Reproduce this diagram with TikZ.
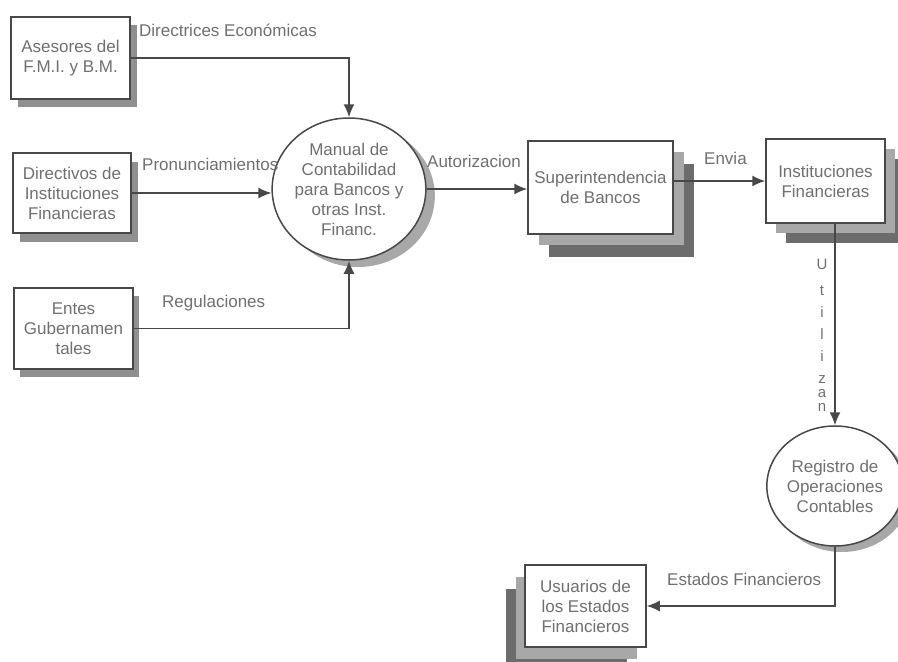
\documentclass[tikz,border=0pt]{standalone}
\usepackage{fontspec}
\setmainfont{Liberation Sans}
\usetikzlibrary{arrows.meta,shapes.geometric,shadows}
\definecolor{txt}{HTML}{707070}
\definecolor{ln}{HTML}{484848}
\definecolor{shs}{HTML}{909090}
\definecolor{shl}{HTML}{A8A8A8}
\definecolor{shd}{HTML}{6C6C6C}
\begin{document}
\begin{tikzpicture}[x=1pt,y=-1pt,
  box/.style={draw=ln, line width=1.5pt, fill=white, text=txt, align=center,
    font=\fontsize{17}{20}\selectfont, inner sep=0pt},
  circ/.style={box, ellipse},
  sh1/.style 2 args={general shadow={fill=shs, draw=none, shadow xshift=#1pt, shadow yshift=-#2pt}},
  shtwo/.style={general shadow={fill=shd, draw=none, shadow xshift=#1},
                general shadow={fill=shl, draw=none, shadow xshift=#1}},
  conn/.style={draw=ln, line width=1.5pt, -{Latex[length=13pt,width=11pt]}},
  lbl/.style={text=txt, font=\fontsize{17}{20}\selectfont, inner sep=0pt, anchor=base west},
  vl/.style={text=txt, font=\fontsize{15}{18}\selectfont, inner sep=0pt, anchor=base}]
\useasboundingbox (0,0) rectangle (898,662);
\fill[white] (0,0) rectangle (898,662);

% connectors first (boxes drawn over them)
\coordinate (asesR) at (130,57);

% nodes
\node[box, minimum width=119pt, minimum height=82pt,
  general shadow={fill=shs, draw=none, shadow xshift=7pt, shadow yshift=-8pt}]
  (ases) at (70.5,58) {Asesores del\\F.M.I. y B.M.};
\node[box, minimum width=118pt, minimum height=80pt,
  general shadow={fill=shs, draw=none, shadow xshift=7pt, shadow yshift=-9pt}]
  (dire) at (72,193) {Directivos de\\Instituciones\\Financieras};
\node[box, minimum width=119pt, minimum height=81pt,
  general shadow={fill=shs, draw=none, shadow xshift=6pt, shadow yshift=-8pt}]
  (entes) at (73.5,328.5) {Entes\\Gubernamen\\tales};
\node[circ, minimum width=132pt, minimum height=142pt,
  general shadow={fill=shl, draw=none, shadow xshift=9pt, shadow yshift=-7pt}]
  (manual) at (349,189) {Manual de\\Contabilidad\\para Bancos y\\otras Inst.\\Financ.};
\node[box, minimum width=145pt, minimum height=93pt,
  general shadow={fill=shd, draw=none, shadow xshift=21pt, shadow yshift=-23pt},
  general shadow={fill=shl, draw=none, shadow xshift=11pt, shadow yshift=-11pt}]
  (super) at (600.5,187.5) {Superintendencia\\de Bancos};
\node[box, minimum width=119pt, minimum height=84pt,
  general shadow={fill=shd, draw=none, shadow xshift=20pt, shadow yshift=-20pt},
  general shadow={fill=shl, draw=none, shadow xshift=10pt, shadow yshift=-10pt}]
  (inst) at (825.5,181) {Instituciones\\Financieras};
\node[circ, minimum width=104pt, minimum height=120pt,
  general shadow={fill=shl, draw=none, shadow xshift=7pt, shadow yshift=-6pt}]
  (regis) at (835,486) {Registro de\\Operaciones\\Contables};
\node[box, minimum width=121pt, minimum height=82pt,
  general shadow={fill=shd, draw=none, shadow xshift=-19pt, shadow yshift=-24pt},
  general shadow={fill=shl, draw=none, shadow xshift=-9pt, shadow yshift=-12pt}]
  (usu) at (585.5,606) {Usuarios de\\los Estados\\Financieros};

% connectors
\draw[conn] (ases.east) -| (manual.north);
\draw[conn] (dire.east) -- (dire.east -| manual.west);
\draw[conn] (entes.east) -| (manual.south);
\draw[conn] (manual.east) -- (super.west |- manual.east);
\draw[conn] (super.east |- inst.west) -- (inst.west);
\draw[conn] (regis.north |- inst.south) -- (regis.north);
\draw[conn] (regis.south) |- (usu.east);

% labels
\node[lbl] (l1) at (139,36) {Directrices Económicas};
\node[lbl] (l2) at (142,170) {Pronunciamientos};
\node[lbl] (l3) at (162,307) {Regulaciones};
\node[lbl] (l4) at (427,167) {Autorizacion};
\node[lbl] (l5) at (704,164) {Envia};
\node[lbl] (l6) at (667,585) {Estados Financieros};

% vertical label "Utilizan"
\node[vl] (v1) at (822,269) {U};
\node[vl] (v2) at (822,295) {t};
\node[vl] (v3) at (822,317) {i};
\node[vl] (v4) at (822,339) {l};
\node[vl] (v5) at (822,361) {i};
\node[vl] (v6) at (822,383) {z};
\node[vl] (v7) at (822,397) {a};
\node[vl] (v8) at (822,411) {n};
\end{tikzpicture}
\end{document}
